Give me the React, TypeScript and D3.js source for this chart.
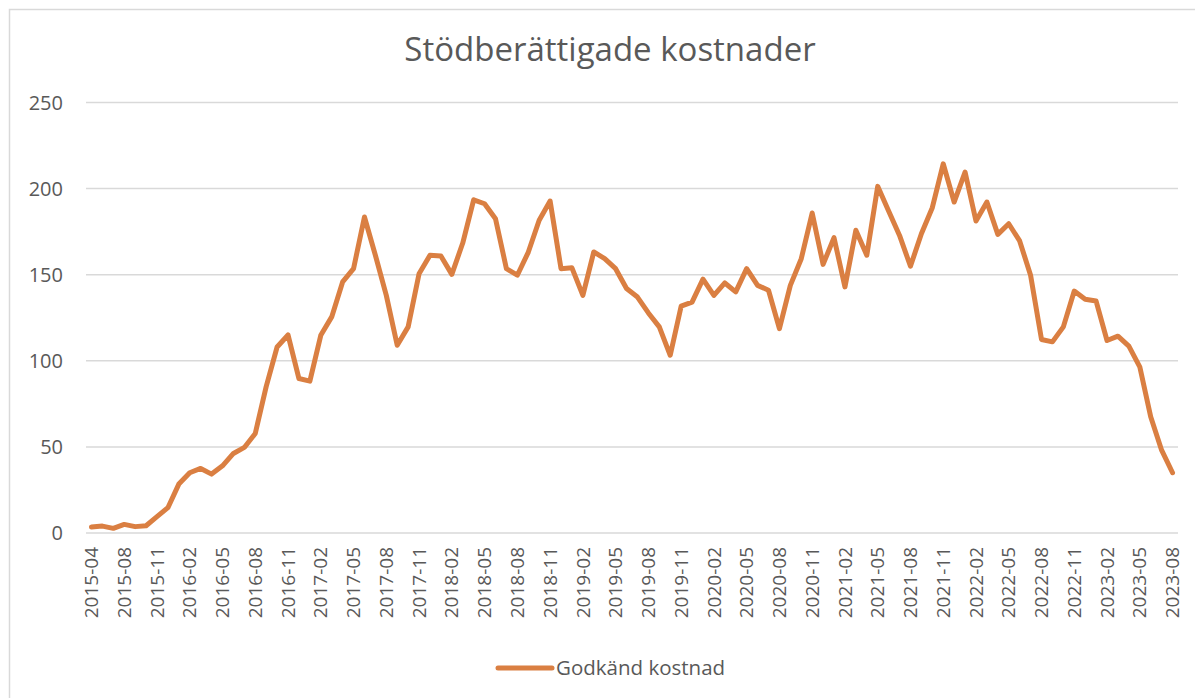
import React from "react";
import * as d3 from "d3";

const title = "Stödberättigade kostnader";
const seriesName = "Godkänd kostnad";

// Monthly categories: 2015-04, then 2015-06 .. 2023-08 (2015-05 is absent in the source)
const categories: string[] = [
  "2015-04",
  ...d3.timeMonths(new Date(2015, 5, 1), new Date(2023, 8, 1)).map(d3.timeFormat("%Y-%m")),
];

const values: number[] = [
  3.5, 4, 2.7, 5, 3.7, 4.2, 9.5, 14.7, 28.4, 35,
  37.5, 34.2, 39, 46.2, 49.7, 57.8, 85, 108, 115, 89.7,
  88.2, 114.8, 125.5, 145.8, 153.5, 183.5, 161.3, 138, 109, 119.7,
  150.6, 161.3, 160.9, 150.2, 168.4, 193.5, 191.2, 182.5, 153.5, 149.7,
  163, 181.6, 192.8, 153.5, 154, 138, 163.2, 159.3, 153.5, 142,
  137, 127.8, 119.7, 103.2, 131.7, 134.1, 147.4, 138, 145.2, 140,
  153.5, 143.8, 141, 118.7, 143.8, 159.3, 185.8, 156, 171.5, 142.9,
  175.8, 161.3, 201.3, 187, 172.8, 154.9, 173.8, 188.9, 214.4, 192.2,
  209.6, 181.2, 192.2, 173.4, 179.6, 169.6, 149.7, 112.4, 111, 119.7,
  140.5, 135.7, 134.7, 111.8, 114.3, 108.5, 96.5, 67.5, 48.1, 35,
];

const yTicks: number[] = [0, 50, 100, 150, 200, 250];

const W = 1195;
const H = 698;
const plot = { left: 86, right: 1178, top: 102.5, bottom: 533 };
const textColor = "#595959";
const lineColor = "#DA7F42";
const gridColor = "#D9D9D9";
const font = "'Open Sans', 'Noto Sans', sans-serif";

export default function App() {
  const x = d3.scaleBand<string>().domain(categories).range([plot.left, plot.right]).padding(0);
  const cx = (c: string) => (x(c) as number) + x.bandwidth() / 2;
  const y = d3.scaleLinear().domain([0, 250]).range([plot.bottom, plot.top]);

  const line = d3
    .line<number>()
    .x((_, i) => cx(categories[i]))
    .y((d) => y(d));

  const tickCats = categories.filter((_, i) => i % 3 === 0);

  return (
    <svg
      width={W}
      height={H}
      style={{ position: "absolute", left: 0, top: 0, background: "#fff" }}
    >
      <rect x={9.5} y={9.5} width={W + 10} height={H + 10} fill="#fff" stroke={gridColor} strokeWidth={1.5} />
      <text
        x={610}
        y={61}
        textAnchor="middle"
        fontFamily={font}
        fontSize={33}
        fill={textColor}
      >
        {title}
      </text>
      {yTicks.map((t) => (
        <g key={t}>
          <line
            x1={plot.left}
            x2={plot.right}
            y1={y(t)}
            y2={y(t)}
            stroke={gridColor}
            strokeWidth={1.5}
          />
          <text
            x={63}
            y={y(t)}
            dy="0.35em"
            textAnchor="end"
            fontFamily={font}
            fontSize={20}
            fill={textColor}
          >
            {t}
          </text>
        </g>
      ))}
      <path
        d={line(values) as string}
        fill="none"
        stroke={lineColor}
        strokeWidth={5}
        strokeLinejoin="round"
        strokeLinecap="round"
      />
      {tickCats.map((c) => (
        <text
          key={c}
          transform={`translate(${cx(c)},${plot.bottom + 14}) rotate(-90)`}
          textAnchor="end"
          dy="0.35em"
          fontFamily={font}
          fontSize={19}
          fill={textColor}
        >
          {c}
        </text>
      ))}
      <line x1={498} x2={552} y1={668} y2={668} stroke={lineColor} strokeWidth={5} strokeLinecap="round" />
      <text x={556} y={668} dy="0.35em" fontFamily={font} fontSize={20.5} fill={textColor}>
        {seriesName}
      </text>
    </svg>
  );
}
